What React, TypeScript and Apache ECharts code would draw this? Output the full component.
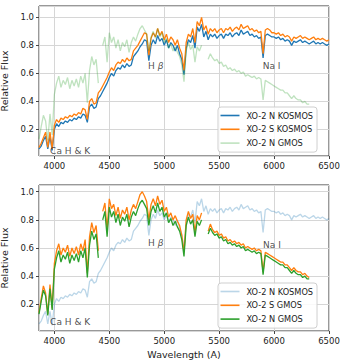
import React, { useEffect, useRef } from 'react';
import * as echarts from 'echarts';

// Wavelength grid (Angstrom) shared by all spectra
const waveK = [
  3860, 3880, 3900, 3920, 3940, 3960, 3980, 4000, 4020, 4040,
  4060, 4080, 4100, 4120, 4140, 4160, 4180, 4200, 4220, 4240,
  4260, 4280, 4300, 4320, 4340, 4360, 4380, 4400, 4420, 4440,
  4460, 4480, 4500, 4520, 4540, 4560, 4580, 4600, 4620, 4640,
  4660, 4680, 4700, 4720, 4740, 4760, 4780, 4800, 4820, 4840,
  4860, 4880, 4900, 4920, 4940, 4960, 4980, 5000, 5020, 5040,
  5060, 5080, 5100, 5120, 5140, 5160, 5180, 5200, 5220, 5240,
  5260, 5280, 5300, 5320, 5340, 5360, 5380, 5400, 5420, 5440,
  5460, 5480, 5500, 5520, 5540, 5560, 5580, 5600, 5620, 5640,
  5660, 5680, 5700, 5720, 5740, 5760, 5780, 5800, 5820, 5840,
  5860, 5880, 5900, 5920, 5940, 5960, 5980, 6000, 6020, 6040,
  6060, 6080, 6100, 6120, 6140, 6160, 6180, 6200, 6220, 6240,
  6260, 6280, 6300, 6320, 6340, 6360, 6380, 6400, 6420, 6440,
  6460, 6480, 6500,
];

const kosmosN = [
  0.06, 0.08, 0.12, 0.15, 0.06, 0.15, 0.05, 0.20, 0.24, 0.22,
  0.25, 0.24, 0.26, 0.25, 0.27, 0.26, 0.28, 0.27, 0.29, 0.28,
  0.31, 0.30, 0.25, 0.36, 0.38, 0.35, 0.36, 0.42, 0.44, 0.47,
  0.50, 0.53, 0.57, 0.60, 0.58, 0.62, 0.64, 0.63, 0.66, 0.64,
  0.67, 0.65, 0.66, 0.72, 0.74, 0.76, 0.79, 0.81, 0.84, 0.83,
  0.69, 0.80, 0.84, 0.81, 0.87, 0.83, 0.85, 0.80, 0.84, 0.78,
  0.82, 0.80, 0.76, 0.80, 0.74, 0.70, 0.59, 0.78, 0.84, 0.82,
  0.87, 0.78, 0.93, 0.90, 0.95, 0.86, 0.90, 0.84, 0.88, 0.86,
  0.88, 0.85, 0.87, 0.88, 0.85, 0.88, 0.87, 0.89, 0.86, 0.88,
  0.89, 0.87, 0.91, 0.88, 0.89, 0.90, 0.87, 0.88, 0.86, 0.87,
  0.85, 0.86, 0.71, 0.87, 0.88, 0.87, 0.86, 0.86, 0.85, 0.86,
  0.84, 0.85, 0.83, 0.84, 0.83, 0.80, 0.83, 0.82, 0.83, 0.84,
  0.82, 0.83, 0.82, 0.81, 0.82, 0.83, 0.81, 0.82, 0.81, 0.82,
  0.81, 0.80, 0.81,
];

const kosmosS = [
  0.07, 0.10, 0.14, 0.18, 0.07, 0.18, 0.06, 0.23, 0.27, 0.25,
  0.28, 0.27, 0.29, 0.28, 0.30, 0.29, 0.31, 0.30, 0.32, 0.31,
  0.35, 0.34, 0.27, 0.40, 0.42, 0.38, 0.39, 0.46, 0.48, 0.51,
  0.54, 0.57, 0.61, 0.64, 0.62, 0.66, 0.68, 0.67, 0.70, 0.68,
  0.71, 0.69, 0.70, 0.76, 0.78, 0.80, 0.83, 0.86, 0.89, 0.88,
  0.73, 0.85, 0.89, 0.86, 0.92, 0.87, 0.90, 0.84, 0.88, 0.82,
  0.86, 0.84, 0.80, 0.84, 0.78, 0.74, 0.62, 0.82, 0.88, 0.86,
  0.92, 0.82, 0.97, 0.94, 1.00, 0.91, 0.94, 0.88, 0.92, 0.90,
  0.92, 0.89, 0.91, 0.92, 0.89, 0.92, 0.91, 0.93, 0.90, 0.92,
  0.93, 0.91, 0.95, 0.92, 0.93, 0.94, 0.91, 0.92, 0.90, 0.91,
  0.89, 0.90, 0.74, 0.91, 0.92, 0.91, 0.89, 0.89, 0.88, 0.89,
  0.87, 0.88, 0.86, 0.87, 0.86, 0.83, 0.86, 0.85, 0.86, 0.87,
  0.85, 0.86, 0.85, 0.84, 0.85, 0.86, 0.84, 0.85, 0.84, 0.85,
  0.84, 0.83, 0.84,
];

// GMOS spectra (same grid, end at 6320 A; null = chip gap)
const gmosN = [
  0.13, 0.22, 0.30, 0.26, 0.12, 0.31, 0.16, 0.45, 0.53, 0.58,
  0.50, 0.55, 0.52, 0.57, 0.49, 0.55, 0.51, 0.56, 0.50, 0.58,
  0.53, 0.60, 0.39, 0.62, 0.72, 0.66, 0.70, 0.53, null, 0.80,
  0.86, 0.68, 0.89, 0.82, 0.86, 0.78, 0.84, 0.76, 0.82, 0.79,
  0.84, 0.75, 0.82, 0.86, 0.83, 0.88, 0.92, 0.94, 0.91, 0.88,
  0.76, 0.86, 0.90, 0.85, 0.92, 0.86, 0.89, 0.82, 0.85, 0.78,
  0.81, 0.76, 0.79, 0.75, 0.72, 0.66, 0.54, 0.76, 0.82, 0.77,
  0.80, 0.68, 0.79, 0.76, 0.80, null, null, 0.70, 0.74, 0.71,
  0.69, 0.70, 0.67, 0.68, 0.65, 0.66, 0.63, 0.64, 0.62, 0.63,
  0.61, 0.62, 0.60, 0.61, 0.58, 0.59, 0.58, 0.57, 0.58, 0.56,
  0.57, 0.56, 0.41, 0.55, 0.54, 0.53, 0.52, 0.51, 0.50, 0.49,
  0.48, 0.48, 0.46, 0.46, 0.44, 0.42, 0.44, 0.42, 0.41, 0.41,
  0.39, 0.40, 0.38, 0.38,
];

const gmosS = [
  0.14, 0.24, 0.33, 0.28, 0.13, 0.34, 0.17, 0.49, 0.58, 0.63,
  0.55, 0.60, 0.57, 0.62, 0.54, 0.60, 0.56, 0.61, 0.55, 0.63,
  0.58, 0.66, 0.42, 0.68, 0.78, 0.71, 0.76, 0.58, null, 0.86,
  0.92, 0.73, 0.95, 0.88, 0.91, 0.83, 0.89, 0.81, 0.87, 0.84,
  0.89, 0.80, 0.87, 0.91, 0.88, 0.93, 0.98, 1.00, 0.97, 0.93,
  0.80, 0.91, 0.95, 0.90, 0.97, 0.91, 0.94, 0.86, 0.89, 0.82,
  0.85, 0.80, 0.83, 0.79, 0.76, 0.69, 0.57, 0.80, 0.86, 0.81,
  0.84, 0.71, 0.83, 0.80, 0.85, null, null, 0.72, 0.77, 0.73,
  0.71, 0.72, 0.69, 0.70, 0.67, 0.68, 0.65, 0.66, 0.64, 0.65,
  0.63, 0.64, 0.62, 0.63, 0.60, 0.61, 0.60, 0.59, 0.60, 0.58,
  0.59, 0.58, 0.43, 0.57, 0.56, 0.55, 0.54, 0.53, 0.52, 0.51,
  0.50, 0.50, 0.48, 0.48, 0.46, 0.44, 0.46, 0.44, 0.43, 0.43,
  0.41, 0.42, 0.40, 0.39,
];

// Line annotations: [label, wavelength, flux] for each panel
const notesTop = [
  ['Ca H & K', 3961, 0.047],
  ['H β', 4853, 0.652],
  ['Na I', 5897, 0.652],
];
const notesBottom = [
  ['Ca H & K', 3961, 0.073],
  ['H β', 4853, 0.639],
  ['Na I', 5900, 0.62],
];

const FONT = 'DejaVu Sans';
const TXT = '#222222';
const BLUE = '#1f77b4';
const ORANGE = '#ff7f0e';
const GREEN = '#2ca02c';
const BLUE_L = 'rgba(31,119,180,0.3)';
const GREEN_L = 'rgba(44,160,44,0.3)';

function pairs(vals: (number | null)[]) {
  return vals.map((v, i) => [waveK[i], v == null ? '-' : v]);
}

function lineSeries(name: string, vals: (number | null)[], color: string, idx: number) {
  return {
    type: 'line',
    name,
    xAxisIndex: idx,
    yAxisIndex: idx,
    data: pairs(vals),
    showSymbol: false,
    symbol: 'none',
    connectNulls: false,
    lineStyle: { color, width: 1.3 },
    itemStyle: { color },
    silent: true,
    z: 2,
  };
}

function noteSeries(notes: any[], idx: number) {
  return {
    type: 'scatter',
    xAxisIndex: idx,
    yAxisIndex: idx,
    symbolSize: 0,
    silent: true,
    z: 5,
    itemStyle: { color: TXT },
    data: notes.map((n) => ({ name: n[0], value: [n[1], n[2]] })),
    label: {
      show: true,
      position: 'inside',
      align: 'left',
      verticalAlign: 'middle',
      fontFamily: FONT,
      fontSize: 9,
      color: TXT,
      formatter: (p: any) => (p.name === 'H β' ? '{n|H }{g|β}' : '{n|' + p.name + '}'),
      rich: {
        n: { fontFamily: FONT, fontSize: 9, color: TXT },
        g: { fontFamily: FONT, fontSize: 9, color: TXT, fontStyle: 'italic' },
      },
    },
  };
}

function xAxis(idx: number, withName: boolean) {
  return {
    type: 'value',
    gridIndex: idx,
    min: 3860,
    max: 6500,
    splitNumber: 5,
    name: withName ? 'Wavelength (A)' : '',
    nameLocation: 'middle',
    nameGap: 18,
    nameTextStyle: { fontFamily: FONT, fontSize: 9.5, color: TXT },
    axisLine: { show: false },
    axisTick: { show: true, length: 3, lineStyle: { color: '#444' } },
    axisLabel: {
      fontFamily: FONT,
      fontSize: 8.5,
      color: TXT,
      margin: 5,
      showMinLabel: false,
      formatter: (v: number) => String(Math.round(v)),
    },
    splitLine: { show: true, lineStyle: { color: '#d6d6d6', width: 1 } },
  };
}

function yAxis(idx: number, max: number) {
  return {
    type: 'value',
    gridIndex: idx,
    min: 0.0095,
    max,
    splitNumber: 5,
    name: 'Relative Flux',
    nameLocation: 'middle',
    nameGap: 27,
    nameTextStyle: { fontFamily: FONT, fontSize: 9.5, color: TXT },
    axisLine: { show: false },
    axisTick: { show: true, length: 3, lineStyle: { color: '#444' } },
    axisLabel: {
      fontFamily: FONT,
      fontSize: 8.5,
      color: TXT,
      margin: 5,
      showMinLabel: false,
      showMaxLabel: false,
      formatter: (v: number) => v.toFixed(1),
    },
    splitLine: { show: true, lineStyle: { color: '#d6d6d6', width: 1 } },
  };
}

function legendItem(name: string, color: string) {
  return { name, icon: 'rect', itemStyle: { color, borderWidth: 0 }, lineStyle: { color, width: 0 } };
}

function legend(top: number, items: any[]) {
  return {
    orient: 'vertical',
    left: 218,
    top,
    padding: [3.5, 4, 4, 2.5],
    itemGap: 3.8,
    itemWidth: 19,
    itemHeight: 1.6,
    selectedMode: false,
    backgroundColor: 'rgba(255,255,255,0.85)',
    borderColor: '#cfcfcf',
    borderWidth: 1,
    borderRadius: 3,
    textStyle: { fontFamily: FONT, fontSize: 8.2, color: TXT, lineHeight: 10, padding: [0, 0, 0, 2] },
    data: items,
    z: 10,
  };
}

export default function App() {
  const ref = useRef<HTMLDivElement>(null);
  useEffect(() => {
    const chart = echarts.init(ref.current!, null, { renderer: 'svg' });
    const gridBase = {
      left: 39,
      width: 290,
      show: true,
      borderColor: '#333',
      borderWidth: 1,
      backgroundColor: 'transparent',
      containLabel: false,
      outerBoundsMode: 'none',
    };
    chart.setOption({
      animation: false,
      backgroundColor: '#ffffff',
      grid: [
        { ...gridBase, top: 6, height: 150 },
        { ...gridBase, top: 185, height: 146 },
      ],
      xAxis: [xAxis(0, false), xAxis(1, true)],
      yAxis: [yAxis(0, 1.081), yAxis(1, 1.048)],
      legend: [
        legend(107, [
          legendItem('XO-2 N KOSMOS', BLUE),
          legendItem('XO-2 S KOSMOS', ORANGE),
          legendItem('XO-2 N GMOS', GREEN_L),
        ]),
        legend(283, [
          legendItem('XO-2 N KOSMOS', BLUE_L),
          legendItem('XO-2 S GMOS', ORANGE),
          legendItem('XO-2 N GMOS', GREEN),
        ]),
      ],
      series: [
        lineSeries('XO-2 N KOSMOS', kosmosN, BLUE, 0),
        lineSeries('XO-2 S KOSMOS', kosmosS, ORANGE, 0),
        lineSeries('XO-2 N GMOS', gmosN, GREEN_L, 0),
        noteSeries(notesTop, 0),
        lineSeries('XO-2 N KOSMOS', kosmosN, BLUE_L, 1),
        lineSeries('XO-2 S GMOS', gmosS, ORANGE, 1),
        lineSeries('XO-2 N GMOS', gmosN, GREEN, 1),
        noteSeries(notesBottom, 1),
      ],
    });
    return () => chart.dispose();
  }, []);
  return (
    <div
      ref={ref}
      style={{ position: 'fixed', left: 0, top: 0, width: 349, height: 364 }}
    />
  );
}
